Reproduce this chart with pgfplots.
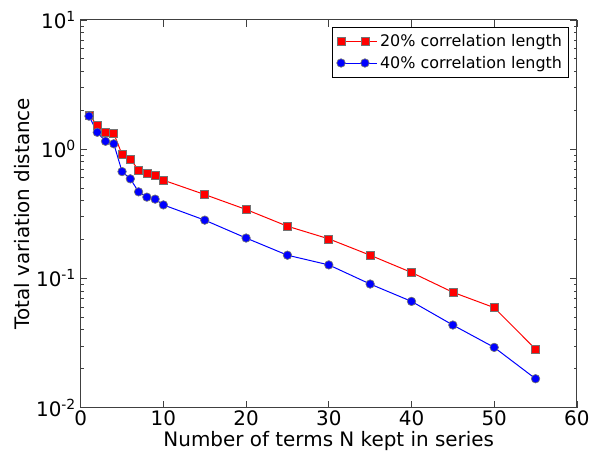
\documentclass[border=0pt]{standalone}
\usepackage{pgfplots}
\pgfplotsset{compat=1.18}
\usepackage{fontspec}
\setmainfont{DejaVu Sans}
\begin{document}
\begin{tikzpicture}
\path (-60.75pt,-37.5pt) rectangle (384.75pt,306.75pt);
\begin{axis}[
  at={(0pt,0pt)}, anchor=south west,
  scale only axis,
  width=373.5pt, height=291.75pt,
  ymode=log,
  xmin=0, xmax=60, ymin=0.01, ymax=10,
  xtick={0,10,20,30,40,50,60},
  xticklabels={0,10,20,30,40,50,60},
  ytick={0.01,0.1,1,10},
  yticklabels={10\textsuperscript{-2},10\textsuperscript{-1},10\textsuperscript{0},10\textsuperscript{1}},
  tick align=inside,
  major tick length=5pt,
  minor tick length=2.5pt,
  tick style={black!75, line width=0.5pt},
  axis line style={black!75, line width=0.8pt},
  ticklabel style={font=\fontsize{15}{17}\selectfont},
  xticklabel style={yshift=1pt},
  xlabel={Number of terms N kept in series},
  ylabel={Total variation distance},
  label style={font=\fontsize{15}{17}\selectfont},
  xlabel style={at={(axis description cs:0.5,-0.087)}, anchor=center},
  ylabel style={at={(axis description cs:-0.118,0.5)}, anchor=center},
  legend style={at={(axis description cs:0.984,0.982)}, anchor=north east,
    font=\fontsize{12}{14}\selectfont, draw=black, line width=0.5pt,
    row sep=1.5pt, inner xsep=3pt, inner ysep=3.5pt},
  legend cell align=left,
  legend image code/.code={\path (-3pt,0pt) -- (27pt,0pt);\draw[#1] plot coordinates {(0pt,0pt) (18pt,0pt)};},
]
\addplot[red, line width=0.75pt, mark=square*, mark size=3pt,
  mark options={fill=red, draw=black!55, line width=0.5pt}]
coordinates {
(1,1.84) (2,1.53) (3,1.35) (4,1.32) (5,0.91) (6,0.837) (7,0.688) (8,0.652) (9,0.625) (10,0.575)
(15,0.445) (20,0.341) (25,0.253) (30,0.202) (35,0.151) (40,0.111) (45,0.078) (50,0.0593) (55,0.0283)
};
\addlegendentry{20\% correlation length}
\addplot[blue, line width=0.75pt, mark=*, mark size=3.2pt,
  mark options={fill=blue, draw=black!55, line width=0.5pt}]
coordinates {
(1,1.80) (2,1.35) (3,1.15) (4,1.10) (5,0.67) (6,0.589) (7,0.467) (8,0.425) (9,0.41) (10,0.37)
(15,0.282) (20,0.205) (25,0.151) (30,0.127) (35,0.0903) (40,0.0663) (45,0.0435) (50,0.0292) (55,0.0167)
};
\addlegendentry{40\% correlation length}
\end{axis}
\end{tikzpicture}
\end{document}
